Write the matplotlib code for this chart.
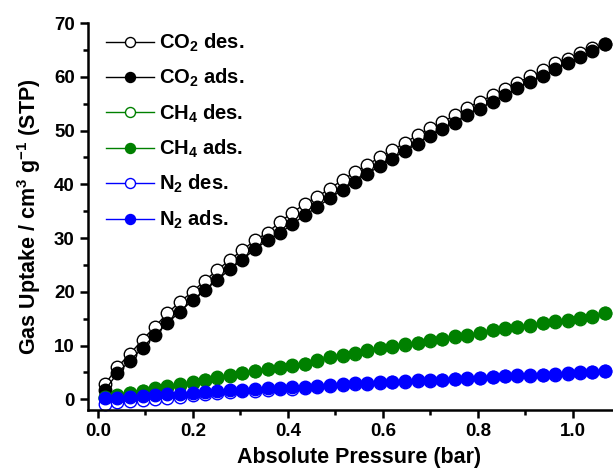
import numpy as np
import matplotlib
matplotlib.use('Agg')
from matplotlib import pyplot as plt
from matplotlib.ticker import MultipleLocator, FormatStrFormatter

plt.rcParams['font.family'] = ['Liberation Sans', 'DejaVu Sans']
plt.rcParams['font.weight'] = 'bold'
plt.rcParams['mathtext.fontset'] = 'custom'
plt.rcParams['mathtext.rm'] = 'Liberation Sans:bold'
plt.rcParams['mathtext.bf'] = 'Liberation Sans:bold'
plt.rcParams['mathtext.default'] = 'bf'

# pressure points (bar)
pressure = [0.015, 0.041, 0.067, 0.094, 0.120, 0.146, 0.172, 0.199, 0.225, 0.251,
            0.278, 0.304, 0.330, 0.357, 0.383, 0.409, 0.436, 0.462, 0.488, 0.515,
            0.541, 0.567, 0.594, 0.620, 0.646, 0.673, 0.699, 0.725, 0.752, 0.778,
            0.804, 0.831, 0.857, 0.883, 0.910, 0.936, 0.962, 0.989, 1.015, 1.041, 1.068]

co2_ads = [1.7, 4.9, 7.1, 9.6, 12.0, 14.1, 16.3, 18.4, 20.3, 22.2,
           24.2, 26.0, 27.9, 29.6, 30.9, 32.6, 34.3, 35.8, 37.4, 39.0,
           40.5, 42.0, 43.4, 44.8, 46.2, 47.6, 49.0, 50.3, 51.5, 52.9,
           54.1, 55.4, 56.6, 57.9, 59.1, 60.1, 61.4, 62.5, 63.7, 64.8, 66.2]
co2_des = [2.8, 6.0, 8.4, 11.1, 13.5, 16.0, 18.1, 20.0, 22.1, 24.0,
           26.0, 27.7, 29.6, 31.0, 33.0, 34.7, 36.4, 37.7, 39.2, 40.8,
           42.3, 43.6, 45.1, 46.4, 47.7, 49.2, 50.4, 51.6, 52.9, 54.3,
           55.4, 56.6, 57.8, 58.9, 60.1, 61.2, 62.5, 63.4, 64.4, 65.3, 66.2]

ch4_ads = [0.4, 0.7, 1.2, 1.6, 2.0, 2.4, 2.8, 3.2, 3.6, 4.1,
           4.5, 4.9, 5.3, 5.7, 6.0, 6.3, 6.6, 7.3, 7.9, 8.2,
           8.6, 9.1, 9.6, 9.9, 10.2, 10.5, 11.0, 11.3, 11.7, 11.9,
           12.4, 12.9, 13.2, 13.5, 13.8, 14.2, 14.6, 14.8, 15.2, 15.5, 16.0]
ch4_des = [0.3, 0.6, 1.1, 1.5, 1.9, 2.3, 2.7, 3.1, 3.5, 4.0,
           4.4, 4.8, 5.2, 5.6, 5.9, 6.2, 6.5, 7.2, 7.8, 8.1,
           8.5, 9.0, 9.5, 9.8, 10.1, 10.4, 10.9, 11.2, 11.6, 11.8,
           12.3, 12.8, 13.1, 13.4, 13.7, 14.1, 14.4, 14.6, 15.0, 15.4, 16.0]

n2_ads = [0.2, 0.2, 0.4, 0.6, 0.7, 0.9, 1.05, 1.2, 1.35, 1.5,
          1.65, 1.8, 1.9, 2.0, 2.15, 2.25, 2.35, 2.45, 2.6, 2.8,
          2.95, 3.1, 3.2, 3.3, 3.4, 3.5, 3.6, 3.65, 3.8, 3.9,
          4.0, 4.2, 4.35, 4.45, 4.5, 4.6, 4.7, 4.8, 5.0, 5.1, 5.2]
n2_des = [-0.9, -0.6, -0.3, -0.1, 0.1, 0.3, 0.5, 0.7, 0.9, 1.1,
          1.3, 1.45, 1.6, 1.7, 1.85, 1.95, 2.1, 2.2, 2.4, 2.6,
          2.75, 2.9, 3.0, 3.15, 3.25, 3.35, 3.45, 3.55, 3.7, 3.8,
          3.9, 4.1, 4.25, 4.35, 4.4, 4.5, 4.6, 4.7, 4.9, 5.0, 5.2]

series = [
    (co2_des, 'black', 'white', r'CO$_2$ des.'),
    (co2_ads, 'black', 'black', r'CO$_2$ ads.'),
    (ch4_des, 'green', 'white', r'CH$_4$ des.'),
    (ch4_ads, 'green', 'green', r'CH$_4$ ads.'),
    (n2_des, 'blue', 'white', r'N$_2$ des.'),
    (n2_ads, 'blue', 'blue', r'N$_2$ ads.'),
]

fig = plt.figure(figsize=(6.13, 4.70), dpi=100)
# axes runs past the right edge, like the cropped original
ax = fig.add_axes([0.1436, 0.1277, 0.884, 0.823])

for ys, col, face, lab in series:
    ax.plot(pressure, ys, '-o', color=col, mfc=face, mec=col, ms=9, mew=1.0,
            lw=1.0, label=lab, clip_on=False)

ax.set_xlim(-0.021, 1.12)
ax.set_ylim(-2, 70)
ax.xaxis.set_major_locator(MultipleLocator(0.2))
ax.xaxis.set_minor_locator(MultipleLocator(0.1))
ax.yaxis.set_major_locator(MultipleLocator(10))
ax.yaxis.set_minor_locator(MultipleLocator(5))
ax.xaxis.set_major_formatter(FormatStrFormatter('%.1f'))

ax.spines['top'].set_visible(False)
ax.spines['right'].set_visible(False)
for s in ['left', 'bottom']:
    ax.spines[s].set_linewidth(1.8)
ax.tick_params(which='major', direction='out', length=6, width=1.8, labelsize=13.5, pad=3.5)
ax.tick_params(which='minor', direction='out', length=3.5, width=1.8)

ax.set_xlabel('Absolute Pressure (bar)', fontsize=15.5, fontweight='bold', labelpad=5)
ax.set_ylabel(r'Gas Uptake / cm$^{3}$ g$^{-1}$ (STP)', fontsize=15.5, fontweight='bold', labelpad=8)

leg = ax.legend(loc='upper left', bbox_to_anchor=(0.0, 1.025), frameon=False,
                fontsize=14.5, handlelength=2.4, handletextpad=0.2, labelspacing=0.65,
                markerscale=0.8)

fig.savefig('out.png', dpi=100)
